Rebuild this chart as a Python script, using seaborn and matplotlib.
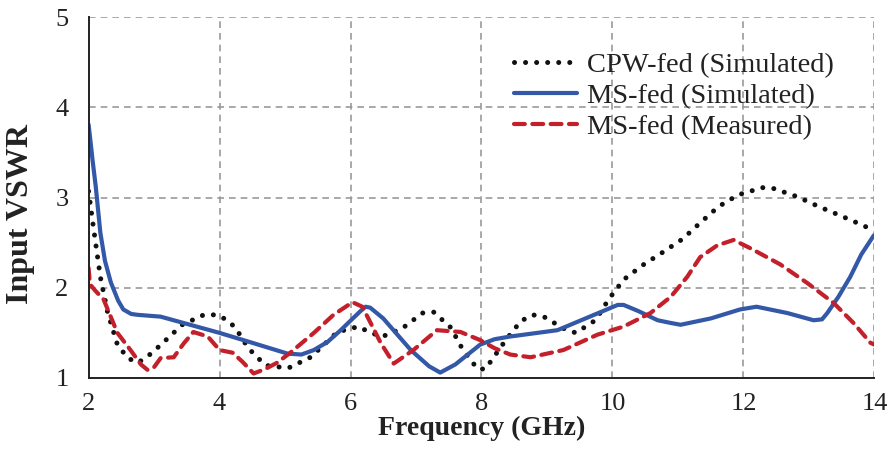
import matplotlib
matplotlib.use("Agg")
import matplotlib.pyplot as plt
import seaborn as sns
import pandas as pd

# ---- data ----
cpw_x = [2.0, 2.08, 2.18, 2.29, 2.44, 2.6, 2.75, 2.87, 3.0, 3.15, 3.43, 3.76, 3.94, 4.1, 4.24,
         4.44, 4.7, 5.05, 5.39, 5.8, 6.12, 6.31, 6.49, 6.79, 7.1, 7.27, 7.53, 7.71, 7.94, 8.06,
         8.37, 8.6, 8.78, 8.95, 9.25, 9.44, 9.74, 9.94, 10.17, 10.46, 10.76, 11.07, 11.34, 11.62,
         11.92, 12.29, 12.46, 12.82, 13.15, 13.48, 13.83, 14.0]
cpw_y = [3.07, 2.64, 2.12, 1.73, 1.37, 1.22, 1.17, 1.22, 1.30, 1.40, 1.59, 1.70, 1.70, 1.65, 1.56,
         1.33, 1.14, 1.11, 1.23, 1.51, 1.57, 1.50, 1.46, 1.55, 1.72, 1.73, 1.56, 1.32, 1.10, 1.10,
         1.42, 1.63, 1.70, 1.68, 1.55, 1.50, 1.64, 1.87, 2.09, 2.25, 2.39, 2.54, 2.72, 2.90,
         3.03, 3.11, 3.10, 3.01, 2.90, 2.80, 2.69, 2.63]

ms_sim_x = [2.0, 2.03, 2.06, 2.11, 2.18, 2.25, 2.34, 2.45, 2.53, 2.65, 2.75, 3.1, 3.4, 4.0, 4.5, 5.04,
            5.25, 5.44, 5.65, 5.85, 6.05, 6.15, 6.23, 6.3, 6.5, 6.92, 7.2, 7.37, 7.6, 7.98, 8.2, 8.44,
            9.16, 9.62, 10.08, 10.17, 10.4, 10.69, 10.89, 11.04, 11.5, 11.95, 12.2, 12.67, 13.07,
            13.2, 13.28, 13.45, 13.63, 13.8, 13.99]
ms_sim_y = [3.81, 3.62, 3.42, 3.12, 2.61, 2.3, 2.06, 1.86, 1.76, 1.71, 1.70, 1.68, 1.62, 1.50, 1.39, 1.27,
            1.26, 1.31, 1.40, 1.53, 1.67, 1.74, 1.79, 1.78, 1.66, 1.31, 1.13, 1.06, 1.15, 1.37, 1.43, 1.46,
            1.53, 1.67, 1.81, 1.81, 1.74, 1.64, 1.61, 1.59, 1.66, 1.76, 1.79, 1.72, 1.64,
            1.65, 1.72, 1.90, 2.12, 2.37, 2.58]

ms_meas_x = [2.0, 2.02, 2.1, 2.23, 2.44, 2.64, 2.8, 2.9, 3.0, 3.1, 3.3, 3.45, 3.6, 3.82, 4.0, 4.2,
             4.35, 4.52, 4.7, 4.88, 5.08, 5.44, 5.74, 6.03, 6.18, 6.3, 6.46, 6.66, 6.96, 7.32, 7.68,
             7.98, 8.2, 8.44, 8.75, 9.25, 9.77, 10.17, 10.58, 10.89, 11.14, 11.34, 11.6, 11.85, 12.1,
             12.56, 12.98, 13.38, 13.68, 13.94, 14.0]
ms_meas_y = [2.22, 2.04, 1.97, 1.87, 1.50, 1.31, 1.15, 1.09, 1.12, 1.22, 1.23, 1.38, 1.51, 1.46, 1.31,
             1.28, 1.18, 1.05, 1.10, 1.17, 1.28, 1.50, 1.70, 1.84, 1.79, 1.62, 1.39, 1.16, 1.31, 1.53,
             1.51, 1.42, 1.33, 1.26, 1.23, 1.31, 1.48, 1.57, 1.72, 1.90, 2.12, 2.34, 2.47, 2.53, 2.44,
             2.26, 2.05, 1.83, 1.61, 1.39, 1.37]

labels = ["CPW-fed (Simulated)", "MS-fed (Simulated)", "MS-fed (Measured)"]
x_ticks = [2, 4, 6, 8, 10, 12, 14]
y_ticks = [1, 2, 3, 4, 5]

# ---- plot ----
sns.set_theme(style="white")
plt.rcParams['font.family'] = ['Liberation Serif', 'DejaVu Serif']

fig = plt.figure(figsize=(8.91, 4.5), dpi=100)
ax = fig.add_axes([0.0994, 0.16, 0.882, 0.802])

df_cpw = pd.DataFrame({"x": cpw_x, "y": cpw_y})
df_sim = pd.DataFrame({"x": ms_sim_x, "y": ms_sim_y})
df_meas = pd.DataFrame({"x": ms_meas_x, "y": ms_meas_y})

sns.lineplot(data=df_cpw, x="x", y="y", ax=ax, sort=False, color="#111111",
             linewidth=3.6, label=labels[0])
sns.lineplot(data=df_sim, x="x", y="y", ax=ax, sort=False, color="#3358A8",
             linewidth=3.0, label=labels[1])
sns.lineplot(data=df_meas, x="x", y="y", ax=ax, sort=False, color="#C4202B",
             linewidth=3.0, label=labels[2])

lines = ax.get_lines()
lines[0].set_linestyle((0, (0.01, 2.2)))
lines[0].set_dash_capstyle("round")
lines[2].set_linestyle((0, (2.6, 1.8)))
lines[2].set_dash_capstyle("round")

ax.set_xlim(2, 14)
ax.set_ylim(1, 5)
ax.set_xticks(x_ticks)
ax.set_yticks(y_ticks)
ax.grid(True, color="#999999", linestyle=(0, (4, 3)), linewidth=1.2)
for s in ["top", "right"]:
    ax.spines[s].set_visible(False)
for s in ["left", "bottom"]:
    ax.spines[s].set_color("#222222")
    ax.spines[s].set_linewidth(1.4)
ax.tick_params(axis="both", direction="inout", length=11, width=1.2, color="#222222",
               labelsize=19, labelcolor="#222222")
ax.tick_params(axis="y", pad=9)
ax.tick_params(axis="x", pad=5)
ax.set_xlabel("Frequency (GHz)", fontsize=20, fontweight="bold", color="#222222", labelpad=1)
ax.set_ylabel("Input VSWR", fontsize=23, fontweight="bold", color="#222222")
ax.yaxis.set_label_coords(-0.068, 0.455)

leg = ax.legend(loc="upper right", bbox_to_anchor=(0.948, 0.903), frameon=False, fontsize=20.5,
                handlelength=2.2, handletextpad=0.35, labelspacing=0.18, borderaxespad=0,
                borderpad=0)
for t in leg.get_texts():
    t.set_color("#222222")

fig.savefig("out.png", dpi=100)
